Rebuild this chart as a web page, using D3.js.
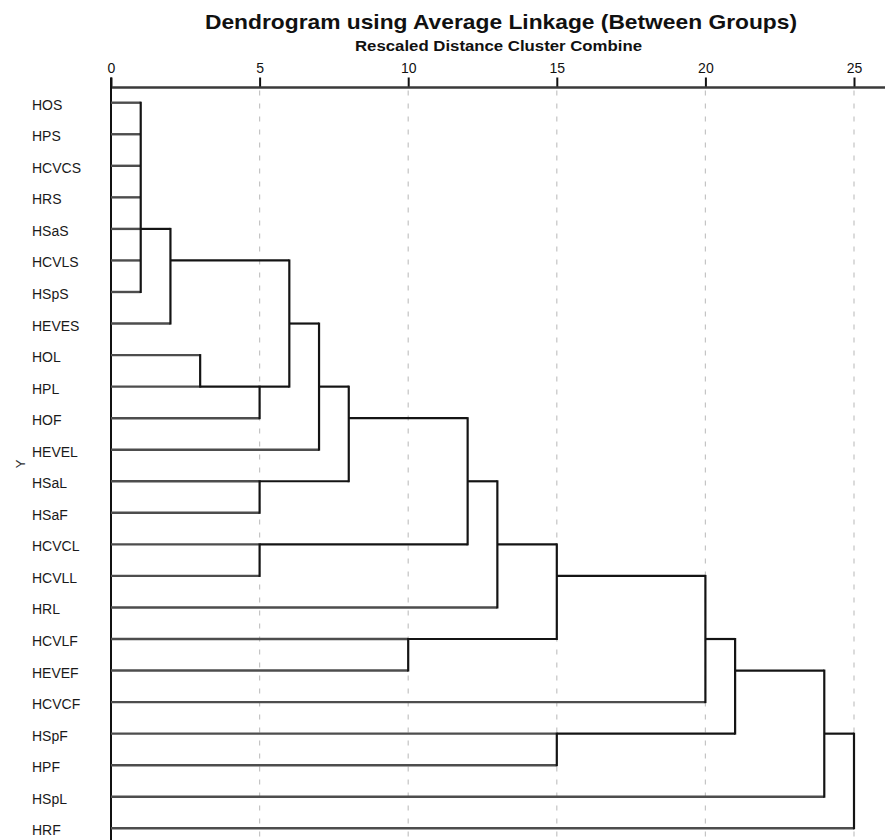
<!DOCTYPE html>
<html>
<head>
<meta charset="utf-8">
<script src="https://cdn.jsdelivr.net/npm/d3@7"></script>
<style>
  html, body { margin: 0; padding: 0; background: #fff; }
  svg { display: block; font-family: "Liberation Sans", Arial, sans-serif; }
</style>
</head>
<body>
<svg id="chart" width="885" height="840"></svg>
<script>
// ---- data ----
const labels = ["HOS","HPS","HCVCS","HRS","HSaS","HCVLS","HSpS","HEVES","HOL","HPL","HOF","HEVEL",
                "HSaL","HSaF","HCVCL","HCVLL","HRL","HCVLF","HEVEF","HCVCF","HSpF","HPF","HSpL","HRF"];
const tickValues = [0, 5, 10, 15, 20, 25];
const nodeIds = ["A","B","C","D","E","F","G","H","I","J","K","L","M","N","O","P","Q","R"];
const nodeChildren = [
  ["HOS","HPS","HCVCS","HRS","HSaS","HCVLS","HSpS"],
  ["A","HEVES"],
  ["HOL","HPL"],
  ["C","HOF"],
  ["B","D"],
  ["E","HEVEL"],
  ["HSaL","HSaF"],
  ["F","G"],
  ["HCVCL","HCVLL"],
  ["H","I"],
  ["J","HRL"],
  ["HCVLF","HEVEF"],
  ["K","L"],
  ["M","HCVCF"],
  ["HSpF","HPF"],
  ["N","O"],
  ["P","HSpL"],
  ["Q","HRF"]
];
const nodeDistance = [1, 2, 3, 5, 6, 7, 5, 8, 5, 12, 13, 10, 15, 20, 15, 21, 24, 25];
// row (leaf label) at which each cluster's connector leaves
const nodeRow = ["HSaS","HCVLS","HPL","HPL","HEVES","HPL","HSaL","HOF","HCVCL","HSaL","HCVCL",
                 "HCVLF","HCVLL","HCVLF","HSpF","HEVEF","HSpF", null];

const title = "Dendrogram using Average Linkage (Between Groups)";
const subtitle = "Rescaled Distance Cluster Combine";
const yTitle = "Y";

// ---- layout ----
const W = 885, H = 840;
const svg = d3.select("#chart");
const x = d3.scaleLinear().domain([0, 25]).range([111, 854]);
const y = d3.scalePoint().domain(labels).range([102.7, 828.3]);
const axisY = 87.5;

// titles
svg.append("text").attr("x", 205).attr("y", 29)
  .attr("font-size", 21).attr("font-weight", "bold").attr("fill", "#111")
  .attr("textLength", 592).attr("lengthAdjust", "spacingAndGlyphs").text(title);
svg.append("text").attr("x", 355).attr("y", 50.5)
  .attr("font-size", 14).attr("font-weight", "bold").attr("fill", "#111")
  .attr("textLength", 287).attr("lengthAdjust", "spacingAndGlyphs").text(subtitle);

// grid lines
svg.append("g").selectAll("line").data(tickValues.filter(d => d > 0)).join("line")
  .attr("x1", d => x(d)).attr("x2", d => x(d))
  .attr("y1", axisY + 3).attr("y2", H)
  .attr("stroke", "#c4c4c4").attr("stroke-width", 1.2).attr("stroke-dasharray", "5,8");

// axis
const axis = d3.axisTop(x).tickValues(tickValues).tickSize(10).tickPadding(5).tickFormat(d3.format("d"));
const gAxis = svg.append("g").attr("transform", `translate(0,${axisY})`).call(axis);
gAxis.select(".domain").remove();
gAxis.selectAll(".tick line").attr("stroke", "#111").attr("stroke-width", 2);
gAxis.selectAll(".tick text").attr("font-size", 14).attr("fill", "#111")
  .attr("font-family", "Liberation Sans, Arial, sans-serif");
svg.append("line").attr("x1", x(0)).attr("x2", W).attr("y1", axisY).attr("y2", axisY)
  .attr("stroke", "#3a3a3a").attr("stroke-width", 2.6);

// zero line
svg.append("line").attr("x1", x(0)).attr("x2", x(0)).attr("y1", axisY - 10).attr("y2", H)
  .attr("stroke", "#111").attr("stroke-width", 2);

// leaf labels
svg.append("g").selectAll("text").data(labels).join("text")
  .attr("x", 32).attr("y", d => y(d) + 2)
  .attr("dominant-baseline", "central")
  .attr("font-size", 14).attr("fill", "#1a1a1a").text(d => d);

// y title
svg.append("text").attr("transform", "translate(20,464) rotate(-90)")
  .attr("text-anchor", "middle").attr("dominant-baseline", "central")
  .attr("font-size", 13).attr("fill", "#333").text(yTitle);

// ---- dendrogram ----
const nodes = nodeIds.map((id, i) => ({ id, children: nodeChildren[i], dist: nodeDistance[i], row: nodeRow[i] }));
const byId = new Map(nodes.map(n => [n.id, n]));
const parentOf = new Map();
nodes.forEach(n => n.children.forEach(c => parentOf.set(c, n)));
const rowY = c => byId.has(c) ? y(byId.get(c).row) : y(c);

const leafLines = [], innerH = [], innerV = [];
labels.forEach(l => {
  const p = parentOf.get(l);
  leafLines.push({ x1: x(0), x2: x(p.dist), y: y(l) });
});
nodes.forEach(n => {
  const ys = n.children.map(rowY);
  innerV.push({ x: x(n.dist), y1: d3.min(ys), y2: d3.max(ys) });
  const p = parentOf.get(n.id);
  if (p) innerH.push({ x1: x(n.dist), x2: x(p.dist), y: y(n.row) });
});

const g = svg.append("g").attr("fill", "none");
g.selectAll(".leaf").data(leafLines).join("line").attr("class", "leaf")
  .attr("x1", d => d.x1).attr("x2", d => d.x2).attr("y1", d => d.y).attr("y2", d => d.y)
  .attr("stroke", "#4d4d4d").attr("stroke-width", 2.4);
g.selectAll(".ih").data(innerH).join("line").attr("class", "ih")
  .attr("x1", d => d.x1).attr("x2", d => d.x2).attr("y1", d => d.y).attr("y2", d => d.y)
  .attr("stroke", "#141414").attr("stroke-width", 2.2);
g.selectAll(".iv").data(innerV).join("line").attr("class", "iv")
  .attr("x1", d => d.x).attr("x2", d => d.x).attr("y1", d => d.y1 - 1).attr("y2", d => d.y2 + 1)
  .attr("stroke", "#141414").attr("stroke-width", 2.2);
</script>
</body>
</html>
